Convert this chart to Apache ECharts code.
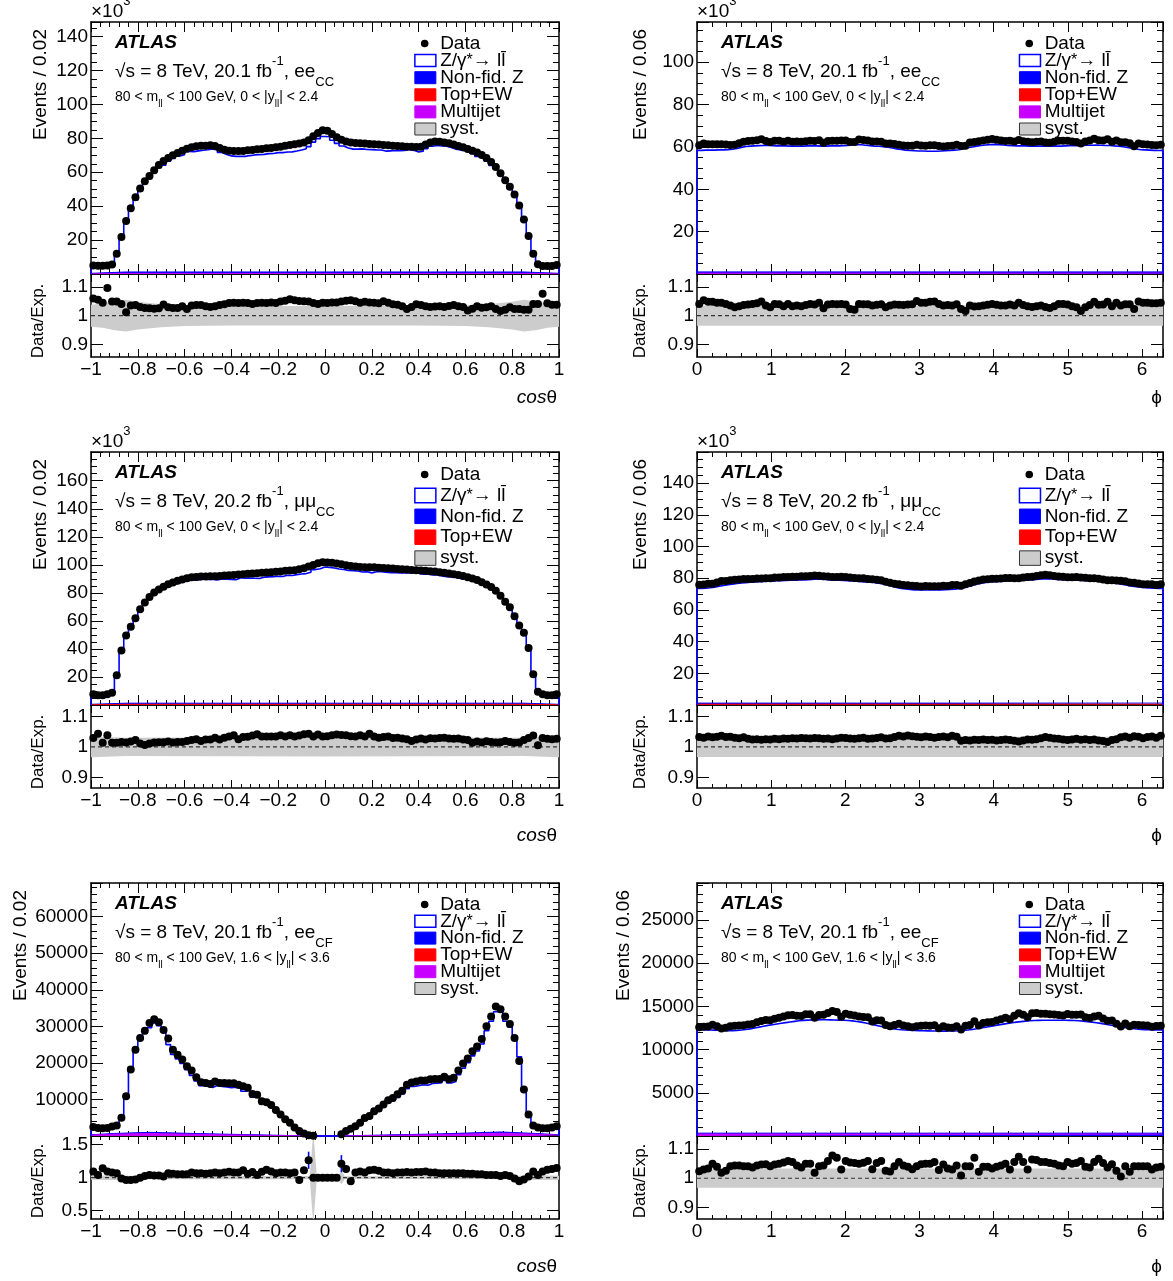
<!DOCTYPE html>
<html>
<head>
<meta charset="utf-8">
<title>ATLAS cos theta and phi distributions</title>
<script src="https://cdn.jsdelivr.net/npm/echarts@6.0.0/dist/echarts.min.js"></script>
<style>
  html, body { margin: 0; padding: 0; background: #fff; }
  #chart { width: 1173px; height: 1281px; }
</style>
</head>
<body>
<div id="chart"></div>
<script>
const FONT = '"Liberation Sans", Arial, Helvetica, sans-serif';

// ee_CC, cos(theta): data in thousands per bin, ratio data/expectation
const dataTL = [
  5.0, 4.8, 4.8, 5.0, 5.6, 12.0, 21.8, 31.2, 38.8, 45.3,
  50.4, 54.7, 57.8, 61.2, 64.3, 66.7, 68.4, 70.0, 71.4, 72.7,
  73.9, 74.7, 75.3, 75.7, 75.7, 75.9, 75.5, 74.3, 73.3, 72.7,
  72.5, 72.5, 72.5, 72.9, 73.1, 73.5, 73.7, 74.1, 74.3, 74.7,
  75.1, 75.7, 76.1, 76.5, 76.9, 77.6, 78.8, 81.2, 83.1, 84.7,
  84.5, 82.5, 80.6, 79.2, 78.2, 77.6, 77.3, 77.1, 76.9, 76.7,
  76.5, 76.3, 76.1, 75.9, 75.7, 75.5, 75.3, 75.1, 75.1, 74.9,
  75.1, 76.3, 77.6, 78.2, 78.0, 77.6, 77.1, 76.3, 75.5, 74.7,
  73.7, 72.7, 71.6, 70.2, 68.4, 66.1, 63.1, 59.4, 55.3, 51.4,
  46.9, 40.4, 32.2, 22.4, 12.0, 5.7, 4.7, 4.7, 4.7, 5.3
];
const ratioTL = [
  1.060, 1.055, 1.045, 1.096, 1.049, 1.049, 1.041, 1.012, 1.035, 1.037,
  1.030, 1.027, 1.026, 1.024, 1.026, 1.039, 1.029, 1.027, 1.027, 1.033,
  1.023, 1.035, 1.037, 1.037, 1.033, 1.030, 1.033, 1.037, 1.040, 1.044,
  1.045, 1.044, 1.045, 1.044, 1.041, 1.044, 1.045, 1.044, 1.046, 1.044,
  1.049, 1.052, 1.057, 1.054, 1.051, 1.050, 1.049, 1.044, 1.041, 1.045,
  1.044, 1.046, 1.046, 1.049, 1.052, 1.054, 1.050, 1.045, 1.048, 1.046,
  1.045, 1.043, 1.050, 1.045, 1.040, 1.038, 1.033, 1.023, 1.030, 1.040,
  1.037, 1.033, 1.030, 1.032, 1.033, 1.030, 1.034, 1.037, 1.033, 1.030,
  1.018, 1.024, 1.033, 1.028, 1.029, 1.033, 1.023, 1.016, 1.021, 1.029,
  1.023, 1.023, 1.021, 1.021, 1.041, 1.041, 1.076, 1.043, 1.038, 1.038
];
const bandTL = [[-1, 0.038], [-0.95, 0.042], [-0.9, 0.05], [-0.85, 0.055], [-0.8, 0.048], [-0.7, 0.04], [-0.6, 0.036], [-0.4, 0.034], [0, 0.034], [0.4, 0.034], [0.6, 0.036], [0.7, 0.04], [0.8, 0.048], [0.85, 0.055], [0.9, 0.05], [0.95, 0.042], [1, 0.038]];
const bkgTL = [[-1, 0.4, 0.15], [-0.85, 1.2, 0.35], [0.85, 1.2, 0.35], [1, 0.4, 0.15]];

// ee_CC, phi: expectation in thousands per bin
const expTR = [
  58.4, 58.5, 58.5, 58.5, 58.6, 58.6, 58.7, 58.9,
  59.3, 59.8, 60.2, 60.4, 60.5, 60.6, 60.7, 60.7, 60.6,
  60.5, 60.5, 60.5, 60.4, 60.4, 60.4, 60.4, 60.5, 60.5, 60.5, 60.4, 60.4, 60.5, 60.5, 60.5, 60.6, 60.7,
  60.9, 61.0, 61.0, 60.8, 60.6, 60.4, 60.3, 60.1, 59.9,
  59.5, 59.1, 58.8, 58.5, 58.3, 58.2, 58.1, 58.1,
  58.0, 58.0, 58.0, 58.1, 58.2, 58.3, 58.5, 58.7,
  59.1, 59.6, 60.0, 60.4, 60.7, 60.9, 61.1, 61.2,
  61.1, 60.9, 60.7, 60.6, 60.5, 60.5, 60.5, 60.4, 60.4, 60.4, 60.4, 60.3, 60.4, 60.4,
  60.4, 60.5, 60.6, 60.6, 60.6, 60.7, 60.8, 60.8, 60.9, 60.8, 60.7, 60.7, 60.5, 60.3, 60.1,
  59.8, 59.4, 59.0, 58.7, 58.6, 58.5, 58.4, 58.3, 58.4
];
const ratioTR = [
  1.041, 1.054, 1.048, 1.048, 1.045, 1.045, 1.041, 1.035, 1.029, 1.033,
  1.037, 1.039, 1.041, 1.043, 1.049, 1.035, 1.029, 1.041, 1.040, 1.033,
  1.041, 1.033, 1.035, 1.033, 1.037, 1.041, 1.039, 1.045, 1.026, 1.039,
  1.041, 1.040, 1.041, 1.039, 1.023, 1.021, 1.041, 1.040, 1.040, 1.035,
  1.038, 1.040, 1.029, 1.035, 1.039, 1.038, 1.037, 1.039, 1.040, 1.051,
  1.045, 1.045, 1.048, 1.049, 1.041, 1.035, 1.037, 1.035, 1.040, 1.023,
  1.016, 1.035, 1.032, 1.033, 1.035, 1.038, 1.041, 1.038, 1.035, 1.035,
  1.039, 1.035, 1.045, 1.037, 1.033, 1.030, 1.033, 1.035, 1.030, 1.027,
  1.033, 1.041, 1.041, 1.039, 1.033, 1.029, 1.016, 1.029, 1.037, 1.048,
  1.038, 1.039, 1.048, 1.033, 1.045, 1.035, 1.040, 1.040, 1.023, 1.049,
  1.045, 1.045, 1.043, 1.043, 1.045
];
const bandTR = [[0, 0.035], [6.2832, 0.035]];
const bkgTR = [[0, 1.0, 0.4], [6.2832, 1.0, 0.4]];

// mumu_CC, cos(theta)
const dataML = [
  7.7, 7.0, 7.0, 7.7, 8.7, 21.2, 38.9, 49.6, 55.9, 61.9,
  68.3, 73.2, 77.0, 80.3, 82.4, 84.3, 86.2, 87.4, 88.6, 89.5,
  90.5, 91.2, 91.4, 91.7, 91.7, 91.9, 91.9, 92.1, 92.4, 92.6,
  92.8, 93.1, 93.3, 93.6, 93.8, 94.0, 94.3, 94.5, 94.7, 95.0,
  95.2, 95.7, 95.9, 96.2, 96.9, 97.6, 98.8, 99.9, 101.1, 101.8,
  101.6, 101.4, 100.9, 100.4, 99.7, 99.2, 98.8, 98.5, 98.3, 98.3,
  98.3, 98.0, 97.8, 97.6, 97.3, 97.1, 96.9, 96.6, 96.4, 96.2,
  95.9, 95.7, 95.4, 95.2, 94.7, 94.3, 93.8, 93.3, 92.8, 92.1,
  91.2, 90.2, 89.1, 87.6, 86.0, 84.1, 81.5, 77.9, 73.7, 69.7,
  63.3, 56.7, 51.5, 40.6, 21.9, 9.4, 7.7, 7.0, 7.0, 7.7
];
const ratioML = [
  1.029, 1.043, 1.013, 1.038, 1.013, 1.013, 1.016, 1.014, 1.017, 1.022,
  1.011, 1.006, 1.011, 1.014, 1.015, 1.015, 1.017, 1.014, 1.016, 1.016,
  1.019, 1.022, 1.025, 1.019, 1.024, 1.024, 1.030, 1.024, 1.030, 1.034,
  1.038, 1.025, 1.032, 1.033, 1.037, 1.041, 1.034, 1.034, 1.034, 1.034,
  1.038, 1.034, 1.038, 1.034, 1.037, 1.041, 1.043, 1.034, 1.040, 1.034,
  1.035, 1.038, 1.040, 1.039, 1.038, 1.035, 1.034, 1.038, 1.034, 1.043,
  1.034, 1.030, 1.032, 1.034, 1.029, 1.030, 1.027, 1.025, 1.019, 1.024,
  1.027, 1.024, 1.028, 1.027, 1.029, 1.030, 1.027, 1.026, 1.027, 1.024,
  1.022, 1.013, 1.017, 1.014, 1.018, 1.016, 1.014, 1.015, 1.019, 1.016,
  1.013, 1.014, 1.022, 1.029, 1.037, 1.005, 1.029, 1.026, 1.025, 1.026
];
const bandML = [[-1, 0.034], [-0.85, 0.03], [0, 0.032], [0.85, 0.03], [1, 0.034]];
const bkgML = [[-1, 0.5, 0.2], [-0.85, 1.3, 0.5], [0.85, 1.3, 0.5], [1, 0.5, 0.2]];

// mumu_CC, phi
const expMR = [
  73.6, 73.8, 74.0, 74.3, 74.9, 75.5, 75.9, 76.3, 76.7, 77.0,
  77.2, 77.5, 77.7, 77.9, 78.0, 78.1, 78.2, 78.4, 78.5, 78.6,
  78.7, 78.8, 78.9, 79.0, 79.1, 79.3, 79.5, 79.4, 79.2, 79.0,
  78.8, 78.7, 78.6, 78.5, 78.3, 78.1, 77.9, 77.7, 77.5, 77.3,
  76.9, 76.4, 75.8, 75.0, 74.2, 73.6, 73.2, 72.9, 72.7, 72.7,
  72.6, 72.6, 72.7, 72.7, 72.6, 72.8, 72.9, 73.1, 73.4, 73.8,
  74.6, 75.4, 76.2, 76.9, 77.4, 77.7, 77.9, 78.0, 78.2, 78.3,
  78.4, 78.5, 78.6, 78.8, 78.9, 79.1, 79.4, 79.6, 79.7, 79.5,
  79.3, 79.1, 79.0, 78.9, 78.8, 78.7, 78.6, 78.4, 78.3, 78.2,
  78.0, 77.8, 77.5, 77.1, 76.6, 76.1, 75.6, 75.0, 74.6, 74.3,
  74.1, 73.9, 73.7, 73.6, 73.6
];
const ratioMR = [
  1.032, 1.030, 1.034, 1.031, 1.033, 1.036, 1.032, 1.033, 1.030, 1.028,
  1.031, 1.026, 1.024, 1.025, 1.023, 1.025, 1.024, 1.026, 1.025, 1.027,
  1.026, 1.028, 1.027, 1.029, 1.028, 1.027, 1.029, 1.028, 1.026, 1.027,
  1.025, 1.027, 1.030, 1.029, 1.027, 1.026, 1.028, 1.030, 1.026, 1.027,
  1.029, 1.031, 1.027, 1.028, 1.032, 1.036, 1.034, 1.037, 1.035, 1.033,
  1.031, 1.034, 1.032, 1.030, 1.032, 1.034, 1.031, 1.036, 1.033, 1.020,
  1.022, 1.021, 1.023, 1.022, 1.024, 1.022, 1.023, 1.021, 1.022, 1.024,
  1.022, 1.020, 1.017, 1.021, 1.024, 1.023, 1.025, 1.028, 1.032, 1.030,
  1.027, 1.026, 1.024, 1.022, 1.024, 1.026, 1.023, 1.025, 1.022, 1.024,
  1.021, 1.019, 1.016, 1.022, 1.025, 1.031, 1.034, 1.030, 1.035, 1.033,
  1.028, 1.032, 1.034, 1.030, 1.036
];
const bandMR = [[0, 0.033], [6.2832, 0.033]];
const bkgMR = [[0, 1.2, 0.5], [6.2832, 1.2, 0.5]];

// ee_CF, cos(theta): raw events per bin, empty bins are null
const dataBL = [
  2450, 2200, 2100, 2200, 2600, 2900, 5000, 10900, 18200, 23600,
  26800, 28800, 30900, 31900, 31100, 29000, 26700, 23600, 22200, 20900,
  19100, 17900, 16100, 14700, 14500, 14200, 14900, 14500, 14500, 14400,
  14400, 14000, 13600, 13200, 11500, 11300, 9500, 9200, 8500, 7100,
  5900, 4600, 3600, 2300, 1400, 700, 200, 100, null, null,
  null, null, null, 500, 1400, 2000, 2700, 3600, 4900, 5500,
  6800, 7500, 8600, 9800, 10400, 11400, 12400, 14000, 14600, 14900,
  15200, 15200, 15500, 15600, 15600, 16200, 15500, 15900, 17900, 19800,
  21200, 23200, 24500, 26500, 30000, 32700, 35400, 34700, 32700, 30600,
  26800, 20500, 12700, 5900, 2900, 2300, 2100, 2100, 2300, 2700
];
const ratioBL = [
  1.095, 1.042, 1.142, 1.095, 1.079, 1.068, 0.989, 0.963, 0.963, 0.974,
  1.000, 1.026, 1.042, 1.032, 1.032, 1.016, 1.068, 1.058, 1.053, 1.053,
  1.053, 1.079, 1.068, 1.068, 1.058, 1.068, 1.079, 1.068, 1.079, 1.089,
  1.079, 1.079, 1.111, 1.058, 1.084, 1.042, 1.089, 1.121, 1.095, 1.068,
  1.079, 1.079, 1.068, 1.079, 0.963, 1.111, 1.263, 1.000, 1.000, 1.000,
  1.000, 1.000, 1.000, 1.211, 1.132, 0.947, 1.079, 1.095, 1.079, 1.111,
  1.121, 1.105, 1.079, 1.079, 1.068, 1.079, 1.079, 1.084, 1.079, 1.084,
  1.084, 1.095, 1.079, 1.079, 1.068, 1.068, 1.068, 1.068, 1.068, 1.068,
  1.058, 1.058, 1.053, 1.053, 1.042, 1.042, 1.042, 1.026, 1.042, 1.026,
  0.989, 0.947, 0.974, 1.016, 1.095, 1.042, 1.095, 1.121, 1.132, 1.147
];
const errBinsBL = [46, 53];
const errBL = [0.13, 0.13];
const bandBL = [[-1, 0.03], [-0.9, 0.035], [-0.8, 0.025], [-0.065, 0.025], [-0.05, 0.7], [-0.035, 0.02], [0.055, 0.02], [0.07, 0.1], [0.085, 0.02], [0.8, 0.025], [0.9, 0.035], [1, 0.03]];
const bkgBL = [[-1, 350, 250], [-0.9, 700, 500], [-0.75, 1000, 700], [-0.5, 600, 400], [-0.2, 200, 120], [-0.05, 0, 0], [0.05, 0, 0], [0.2, 200, 120], [0.5, 600, 400], [0.75, 1100, 750], [0.9, 700, 500], [1, 350, 250]];

// ee_CF, phi: raw expectation per bin
const expBR = [
  12300, 12280, 12260, 12250, 12230, 12220, 12200, 12200, 12220, 12260,
  12320, 12400, 12500, 12600, 12700, 12800, 12880, 12960, 13040, 13120,
  13200, 13270, 13330, 13380, 13410, 13430, 13440, 13450, 13450, 13440,
  13430, 13410, 13390, 13360, 13320, 13260, 13180, 13080, 12970, 12860,
  12740, 12620, 12510, 12420, 12350, 12300, 12260, 12230, 12210, 12190,
  12180, 12170, 12160, 12150, 12140, 12140, 12150, 12160, 12180, 12210,
  12260, 12330, 12410, 12500, 12590, 12680, 12770, 12860, 12950, 13030,
  13110, 13180, 13240, 13290, 13330, 13360, 13380, 13390, 13400, 13400,
  13400, 13400, 13390, 13380, 13360, 13330, 13290, 13240, 13180, 13110,
  13030, 12940, 12850, 12760, 12670, 12590, 12510, 12440, 12380, 12340,
  12310, 12290, 12280, 12280, 12290
];
const ratioBR = [
  1.024, 1.030, 1.033, 1.050, 1.039, 1.019, 1.026, 1.041, 1.044, 1.044,
  1.041, 1.041, 1.037, 1.044, 1.047, 1.048, 1.041, 1.047, 1.050, 1.054,
  1.059, 1.056, 1.044, 1.037, 1.050, 1.050, 1.019, 1.041, 1.044, 1.059,
  1.078, 1.070, 1.030, 1.059, 1.054, 1.052, 1.050, 1.053, 1.059, 1.031,
  1.052, 1.059, 1.026, 1.023, 1.041, 1.056, 1.044, 1.039, 1.031, 1.041,
  1.048, 1.050, 1.050, 1.056, 1.028, 1.047, 1.033, 1.030, 1.044, 1.009,
  1.041, 1.041, 1.070, 1.022, 1.039, 1.039, 1.033, 1.039, 1.044, 1.050,
  1.030, 1.056, 1.074, 1.056, 1.030, 1.064, 1.063, 1.056, 1.056, 1.052,
  1.050, 1.044, 1.041, 1.056, 1.050, 1.052, 1.059, 1.039, 1.037, 1.056,
  1.067, 1.052, 1.037, 1.048, 1.026, 1.006, 1.041, 1.022, 1.041, 1.041,
  1.041, 1.041, 1.030, 1.037, 1.039
];
const bandBR = [[0, 0.033], [6.2832, 0.033]];
const bkgBR = [[0, 330, 220], [6.2832, 330, 220]];

// ---- layout ----
const cosAxis = { min: -1, max: 1, interval: 0.2, minor: 5, title: '{it|cos}θ' };
const phiAxis = { min: 0, max: 2 * Math.PI, interval: 1, minor: 5, title: 'ϕ' };

const rows = [
  { top: 22, split: 274, bottom: 357, titleY: 398, ratioTitleY: 321, legY: 21.5, legStep: 17.1, legBox: 12 },
  { top: 452, split: 705, bottom: 788, titleY: 836, ratioTitleY: 752, legY: 22.5, legStep: 20.9, legBox: 14.5 },
  { top: 883, split: 1136, bottom: 1219, titleY: 1267, ratioTitleY: 1181, legY: 21.5, legStep: 16.8, legBox: 12 }
];
const cols = [
  { left: 91, width: 468, ratioTitleX: 38, titleRight: 557 },
  { left: 697, width: 466, ratioTitleX: 640, titleRight: 1162 }
];

const panels = [
  { row: 0, col: 0, axis: cosAxis, data: dataTL, ratio: ratioTL, band: bandTL, bkg: bkgTL,
    ymax: 148.6, ystep: 20, yminor: 4, x1000: true, rrange: [0.857, 1.1445], rticks: [0.9, 1, 1.1],
    ytitle: 'Events / 0.02', ytitleX: 41, lumi: '20.1', chan: 'ee', sub: 'CC', cut: '0 < |y{s|ll}| < 2.4', mj: true },
  { row: 0, col: 1, axis: phiAxis, exp: expTR, ratio: ratioTR, band: bandTR, bkg: bkgTR,
    ymax: 119, ystep: 20, yminor: 4, x1000: true, rrange: [0.857, 1.1445], rticks: [0.9, 1, 1.1],
    ytitle: 'Events / 0.06', ytitleX: 641, lumi: '20.1', chan: 'ee', sub: 'CC', cut: '0 < |y{s|ll}| < 2.4', mj: true },
  { row: 1, col: 0, axis: cosAxis, data: dataML, ratio: ratioML, band: bandML, bkg: bkgML,
    ymax: 180.5, ystep: 20, yminor: 4, x1000: true, rrange: [0.865, 1.137], rticks: [0.9, 1, 1.1],
    ytitle: 'Events / 0.02', ytitleX: 41, lumi: '20.2', chan: 'μμ', sub: 'CC', cut: '0 < |y{s|ll}| < 2.4', mj: false },
  { row: 1, col: 1, axis: phiAxis, exp: expMR, ratio: ratioMR, band: bandMR, bkg: bkgMR,
    ymax: 159.7, ystep: 20, yminor: 4, x1000: true, rrange: [0.865, 1.137], rticks: [0.9, 1, 1.1],
    ytitle: 'Events / 0.06', ytitleX: 641, lumi: '20.2', chan: 'μμ', sub: 'CC', cut: '0 < |y{s|ll}| < 2.4', mj: false },
  { row: 2, col: 0, axis: cosAxis, data: dataBL, ratio: ratioBL, band: bandBL, bkg: bkgBL, errBins: errBinsBL, err: errBL,
    ymax: 69200, ystep: 10000, yminor: 5, x1000: false, rrange: [0.375, 1.63], rticks: [0.5, 1, 1.5],
    ytitle: 'Events / 0.02', ytitleX: 21, lumi: '20.1', chan: 'ee', sub: 'CF', cut: '1.6 < |y{s|ll}| < 3.6', mj: true },
  { row: 2, col: 1, axis: phiAxis, exp: expBR, ratio: ratioBR, band: bandBR, bkg: bkgBR,
    ymax: 29280, ystep: 5000, yminor: 5, x1000: false, rrange: [0.86, 1.145], rticks: [0.9, 1, 1.1],
    ytitle: 'Events / 0.06', ytitleX: 624, lumi: '20.1', chan: 'ee', sub: 'CF', cut: '1.6 < |y{s|ll}| < 3.6', mj: true }
];

const BLUE = '#0000ff', RED = '#ff0000', MAGENTA = '#c800ff', GREY = '#cccccc';

const richBig = {
  sup: { fontFamily: FONT, fontSize: 13, lineHeight: 20, verticalAlign: 'top', fill: '#000' },
  star: { fontFamily: FONT, fontSize: 16, lineHeight: 34, verticalAlign: 'middle', fill: '#000' },
  sub: { fontFamily: FONT, fontSize: 13, lineHeight: 13, verticalAlign: 'bottom', fill: '#000' },
  it: { fontFamily: FONT, fontSize: 19, fontStyle: 'italic', lineHeight: 34, fill: '#000' }
};
const richSmall = {
  s: { fontFamily: FONT, fontSize: 10, lineHeight: 10, verticalAlign: 'bottom', fill: '#000' }
};

const grids = [], xAxes = [], yAxes = [], series = [], graphics = [];

function onStep(v, start, step) {
  const k = (v - start) / step;
  return Math.abs(k - Math.round(k)) < 1e-6;
}

function xLabel(axis) {
  return v => {
    if (!onStep(v, axis.min, axis.interval)) return '';
    const r = Math.round(v * 10) / 10;
    return r < 0 ? '\u2212' + (-r) : String(Math.abs(r));
  };
}

const lineBlack = { color: '#000', width: 1.5 };
const tickStyle = { color: '#000', width: 1 };
const labelStyle = { show: true, color: '#000', fontFamily: FONT, fontSize: 19 };

function addXAxes(g, axis, showLabels, tick) {
  const common = {
    type: 'value', gridIndex: g, min: axis.min, max: axis.max, interval: axis.interval,
    axisLine: { show: true, onZero: false, lineStyle: lineBlack },
    axisTick: { show: true, inside: true, length: tick, lineStyle: tickStyle },
    minorTick: { show: true, splitNumber: axis.minor, length: tick / 2, lineStyle: tickStyle },
    splitLine: { show: false }, minorSplitLine: { show: false }
  };
  xAxes.push(Object.assign({}, common, {
    position: 'bottom',
    axisLabel: showLabels ? Object.assign({}, labelStyle, { margin: 3, formatter: xLabel(axis) }) : { show: false }
  }));
  xAxes.push(Object.assign({}, common, { position: 'top', axisLabel: { show: false } }));
}

function addMainYAxes(g, p) {
  const common = {
    type: 'value', gridIndex: g, min: 0, max: p.ymax, interval: p.ystep,
    axisLine: { show: true, onZero: false, lineStyle: lineBlack },
    axisTick: { show: true, inside: true, length: 12, lineStyle: tickStyle },
    minorTick: { show: true, splitNumber: p.yminor, length: 6, lineStyle: tickStyle },
    splitLine: { show: false }, minorSplitLine: { show: false }
  };
  yAxes.push(Object.assign({}, common, {
    position: 'left',
    axisLabel: Object.assign({}, labelStyle, {
      margin: 3,
      formatter: v => (v <= 0 || v > p.ymax - 0.1 * p.ystep || !onStep(v, 0, p.ystep)) ? '' : String(Math.round(v))
    })
  }));
  yAxes.push(Object.assign({}, common, { position: 'right', axisLabel: { show: false } }));
}

function addRatioYAxes(g, p) {
  const common = {
    type: 'value', gridIndex: g, min: p.rrange[0], max: p.rrange[1],
    axisLine: { show: true, onZero: false, lineStyle: lineBlack },
    axisTick: { show: true, inside: true, length: 12, lineStyle: tickStyle, customValues: p.rticks },
    minorTick: { show: false },
    splitLine: { show: false }
  };
  yAxes.push(Object.assign({}, common, {
    position: 'left',
    axisLabel: Object.assign({}, labelStyle, { margin: 3, customValues: p.rticks, formatter: v => String(v) })
  }));
  yAxes.push(Object.assign({}, common, { position: 'right', axisLabel: { show: false } }));
}

function addText(x, y, text, style, rotation) {
  graphics.push({
    type: 'text', x: x, y: y, rotation: rotation || 0, silent: true, z: 50,
    style: Object.assign({
      text: text, fill: '#000', fontFamily: FONT, fontSize: 19, align: 'left', verticalAlign: 'middle'
    }, style)
  });
}

panels.forEach(p => {
  const r = rows[p.row], c = cols[p.col];
  const ax = p.axis;
  const n = p.ratio.length;
  const w = (ax.max - ax.min) / n;
  const edges = [], centers = [];
  for (let i = 0; i <= n; i++) edges.push(ax.min + i * w);
  for (let i = 0; i < n; i++) centers.push(ax.min + (i + 0.5) * w);

  const data = p.data ? p.data : p.exp.map((e, i) => e * p.ratio[i]);
  const exp = p.exp ? p.exp : p.data.map((d, i) => d == null ? 0 : d / p.ratio[i]);

  // main pad
  const gm = grids.length;
  grids.push({ left: c.left, top: r.top, width: c.width, height: r.split - r.top, outerBoundsMode: 'none' });
  addXAxes(gm, ax, false, 10);
  addMainYAxes(gm, p);

  // ratio pad
  const gr = grids.length;
  grids.push({ left: c.left, top: r.split, width: c.width, height: r.bottom - r.split, outerBoundsMode: 'none' });
  addXAxes(gr, ax, true, 8);
  addRatioYAxes(gr, p);

  const mi = 2 * gm, ri = 2 * gr;

  // backgrounds
  series.push({
    type: 'line', xAxisIndex: mi, yAxisIndex: mi, silent: true, symbol: 'none', z: 2,
    data: p.bkg.map(b => [b[0], b[1]]),
    lineStyle: { color: BLUE, width: 1 }, areaStyle: { color: BLUE, opacity: 1 }
  });
  series.push({
    type: 'line', xAxisIndex: mi, yAxisIndex: mi, silent: true, symbol: 'none', z: 2,
    data: p.bkg.map(b => [b[0], b[2]]),
    lineStyle: { color: p.mj ? MAGENTA : RED, width: 1 }, areaStyle: { color: p.mj ? MAGENTA : RED, opacity: 1 }
  });

  // expectation histogram
  const hist = [[edges[0], 0]];
  exp.forEach((v, i) => hist.push([edges[i], v]));
  hist.push([edges[n], exp[n - 1]]);
  hist.push([edges[n], 0]);
  series.push({
    type: 'line', xAxisIndex: mi, yAxisIndex: mi, silent: true, symbol: 'none', step: 'end', clip: false, z: 3,
    data: hist, lineStyle: { color: BLUE, width: 1.6 }
  });

  // data points
  series.push({
    type: 'scatter', xAxisIndex: mi, yAxisIndex: mi, silent: true, clip: false, z: 5,
    symbolSize: 8, itemStyle: { color: '#000', opacity: 1 },
    data: centers.map((x, i) => [x, data[i]]).filter(d => d[1] != null)
  });

  // syst band in ratio
  const band = p.band;
  series.push({
    type: 'custom', xAxisIndex: ri, yAxisIndex: ri, silent: true, clip: true, z: 1,
    data: band.map(b => [b[0], 1]),
    renderItem: (params, api) => {
      if (params.dataIndex !== 0) return null;
      const up = band.map(b => api.coord([b[0], 1 + b[1]]));
      const lo = band.map(b => api.coord([b[0], 1 - b[1]])).reverse();
      return { type: 'polygon', shape: { points: up.concat(lo) }, style: { fill: GREY } };
    }
  });

  // unity line
  series.push({
    type: 'line', xAxisIndex: ri, yAxisIndex: ri, silent: true, symbol: 'none', z: 2,
    data: [[ax.min, 1], [ax.max, 1]], lineStyle: { color: '#333', width: 1.2, type: [4, 3] }
  });

  // error bars
  if (p.errBins) {
    series.push({
      type: 'custom', xAxisIndex: ri, yAxisIndex: ri, silent: true, clip: true, z: 4,
      data: p.errBins.map((b, k) => [centers[b], p.ratio[b], p.err[k]]),
      renderItem: (params, api) => {
        const a = api.coord([api.value(0), api.value(1) - api.value(2)]);
        const b = api.coord([api.value(0), api.value(1) + api.value(2)]);
        return { type: 'line', shape: { x1: a[0], y1: a[1], x2: b[0], y2: b[1] }, style: { stroke: BLUE, lineWidth: 1.6 } };
      }
    });
  }

  // ratio points
  series.push({
    type: 'scatter', xAxisIndex: ri, yAxisIndex: ri, silent: true, clip: false, z: 5,
    symbolSize: 8, itemStyle: { color: '#000', opacity: 1 },
    data: centers.map((x, i) => [x, p.ratio[i]])
  });

  // texts
  const L = c.left, T = r.top, W = c.width;
  if (p.x1000) addText(L, T - 10, '×10{sup|3}', { lineHeight: 34, rich: richBig });
  addText(L + 24, T + 20.5, 'ATLAS', { fontWeight: 'bold', fontStyle: 'italic' });
  addText(L + 24, T + 49.5, '√s = 8 TeV, ' + p.lumi + ' fb{sup|-1}, ' + p.chan + '{sub|' + p.sub + '}',
    { lineHeight: 34, rich: richBig });
  addText(L + 24, T + 75.5, '80 < m{s|ll} < 100 GeV, ' + p.cut, { fontSize: 14, lineHeight: 24, rich: richSmall });

  addText(p.ytitleX, T + 7, p.ytitle, { align: 'right' }, Math.PI / 2);
  addText(c.ratioTitleX, r.ratioTitleY, 'Data/Exp.', { align: 'center', fontSize: 17 }, Math.PI / 2);
  addText(c.titleRight, r.titleY, ax.title, { align: 'right', lineHeight: 34, rich: richBig });

  // legend
  const items = [
    { kind: 'dot', text: 'Data' },
    { kind: 'open', color: BLUE, text: 'Z/γ{star|*}→ ll\u0304' },
    { kind: 'fill', color: BLUE, text: 'Non-fid. Z' },
    { kind: 'fill', color: RED, text: 'Top+EW' }
  ];
  if (p.mj) items.push({ kind: 'fill', color: MAGENTA, text: 'Multijet' });
  items.push({ kind: 'syst', color: GREY, text: 'syst.' });
  const boxX = L + 0.692 * W, dotX = L + 0.713 * W, textX = L + 0.746 * W;
  items.forEach((it, k) => {
    const y = T + r.legY + k * r.legStep;
    if (it.kind === 'dot') {
      graphics.push({ type: 'circle', silent: true, z: 50, shape: { cx: dotX, cy: y, r: 3.8 }, style: { fill: '#000' } });
    } else {
      const h = r.legBox;
      let style;
      if (it.kind === 'open') style = { fill: '#fff', stroke: it.color, lineWidth: 1.5 };
      else if (it.kind === 'syst') style = { fill: it.color, stroke: '#333', lineWidth: 1 };
      else style = { fill: it.color, stroke: it.color, lineWidth: 1 };
      graphics.push({ type: 'rect', silent: true, z: 50, shape: { x: boxX, y: y - h / 2, width: 21, height: h }, style: style });
    }
    addText(textX, y, it.text, { lineHeight: 34, rich: richBig });
  });
});

const chart = echarts.init(document.getElementById('chart'), null, { renderer: 'canvas' });
chart.setOption({
  animation: false,
  backgroundColor: '#fff',
  textStyle: { fontFamily: FONT },
  grid: grids,
  xAxis: xAxes,
  yAxis: yAxes,
  series: series,
  graphic: graphics
});
window.addEventListener('resize', () => chart.resize());
</script>
</body>
</html>
